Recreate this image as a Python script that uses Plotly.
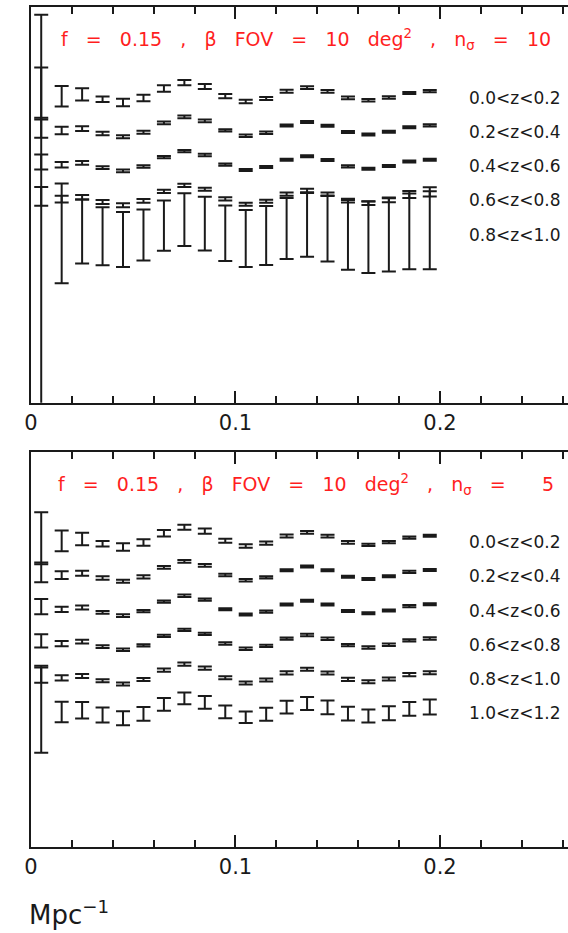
import plotly.graph_objects as go
from plotly.subplots import make_subplots

# Wavenumber bin centres (Mpc^-1)
k = [0.005, 0.015, 0.025, 0.035, 0.045, 0.055, 0.065, 0.075, 0.085, 0.095,
     0.105, 0.115, 0.125, 0.135, 0.145, 0.155, 0.165, 0.175, 0.185, 0.195]

# Fiducial P(k)/P_smooth ratio (baryon wiggles), common to every redshift slice
bao_ratio = [1.006, 0.990, 1.001, 0.973, 0.954, 0.980, 1.035, 1.070, 1.047, 0.991,
             0.960, 0.977, 1.019, 1.040, 1.018, 0.981, 0.967, 0.983, 1.009, 1.020]

# Redshift slices
z_bins = ["0.0<z<0.2", "0.2<z<0.4", "0.4<z<0.6", "0.6<z<0.8", "0.8<z<1.0", "1.0<z<1.2"]

# Vertical offset between consecutive slices
offset_step = 0.2

# 1-sigma errors on the ratio
err_z00_02 = [0.152, 0.060, 0.036, 0.016, 0.022, 0.019, 0.019, 0.015, 0.015, 0.012,
              0.010, 0.009, 0.009, 0.008, 0.008, 0.008, 0.007, 0.007, 0.006, 0.006]
err_z02_04 = [0.058, 0.022, 0.014, 0.010, 0.009, 0.009, 0.008, 0.008, 0.008, 0.007,
              0.007, 0.007, 0.006, 0.006, 0.006, 0.006, 0.006, 0.006, 0.006, 0.006]
err_z04_06 = [0.044, 0.016, 0.011, 0.008, 0.008, 0.007, 0.007, 0.007, 0.007, 0.006,
              0.006, 0.006, 0.006, 0.006, 0.006, 0.006, 0.006, 0.006, 0.006, 0.006]

# n_sigma = 10
err_z06_08_n10 = [0.055, 0.020, 0.013, 0.012, 0.012, 0.011, 0.010, 0.009, 0.009, 0.009,
                  0.009, 0.009, 0.009, 0.010, 0.010, 0.011, 0.011, 0.012, 0.013, 0.015]
err_z08_10_n10 = [1.260, 0.291, 0.187, 0.169, 0.161, 0.149, 0.146, 0.154, 0.157, 0.162,
                  0.166, 0.172, 0.178, 0.186, 0.193, 0.204, 0.209, 0.216, 0.228, 0.239]

# n_sigma = 5
err_z06_08_n5 = [0.038, 0.015, 0.011, 0.008, 0.007, 0.007, 0.007, 0.007, 0.007, 0.007,
                 0.007, 0.007, 0.007, 0.007, 0.007, 0.007, 0.007, 0.007, 0.007, 0.007]
err_z08_10_n5 = [0.044, 0.015, 0.012, 0.009, 0.009, 0.009, 0.009, 0.009, 0.009, 0.009,
                 0.009, 0.009, 0.009, 0.009, 0.009, 0.009, 0.009, 0.009, 0.009, 0.009]
err_z10_12_n5 = [0.254, 0.060, 0.048, 0.044, 0.041, 0.040, 0.037, 0.034, 0.037, 0.037,
                 0.034, 0.038, 0.037, 0.038, 0.040, 0.040, 0.038, 0.041, 0.040, 0.044]

panel_titles = [
    "f = 0.15 , β FOV = 10 deg<sup>2</sup> , n<sub>σ</sub> = 10",
    "f = 0.15 , β FOV = 10 deg<sup>2</sup> , n<sub>σ</sub> =  5",
]
panel_errors = [
    [err_z00_02, err_z02_04, err_z04_06, err_z06_08_n10, err_z08_10_n10],
    [err_z00_02, err_z02_04, err_z04_06, err_z06_08_n5, err_z08_10_n5, err_z10_12_n5],
]

INK = "#1a1a1a"
RED = "#ff1e1e"
FONT = "DejaVu Sans"
WIDE_GAP = "\u00a0\u00a0\u00a0"

fig = make_subplots(rows=2, cols=1, vertical_spacing=0.0588)

for p, errs in enumerate(panel_errors):
    row = p + 1
    sfx = "" if row == 1 else str(row)
    for j, e in enumerate(errs):
        shift = offset_step * j
        fig.add_trace(
            go.Scatter(
                x=k,
                y=[r - shift for r in bao_ratio],
                mode="markers",
                marker=dict(size=1, opacity=0),
                error_y=dict(type="data", array=e, visible=True,
                             color=INK, thickness=2, width=7),
                showlegend=False,
                hoverinfo="skip",
            ),
            row=row, col=1,
        )
        fig.add_annotation(
            x=0.2132, y=1.0 - shift, xref=f"x{sfx}", yref=f"y{sfx}",
            text=z_bins[j], showarrow=False, xanchor="left", yanchor="middle",
            yshift=-3, font=dict(family=FONT, size=17, color=INK),
        )
    title = panel_titles[p].replace(" ", WIDE_GAP)
    fig.add_annotation(
        x=0.512, y=0.917, xref=f"x{sfx} domain", yref=f"y{sfx} domain",
        text=title, showarrow=False, xanchor="center", yanchor="middle",
        font=dict(family=FONT, size=19, color=RED),
    )

xaxis_style = dict(
    range=[0, 0.2626], showline=True, linewidth=2, linecolor=INK,
    mirror="allticks", ticks="inside", ticklen=12, tickwidth=2, tickcolor=INK,
    dtick=0.1, tick0=0, showgrid=False, zeroline=False,
    minor=dict(ticks="inside", ticklen=7, tickwidth=2, tickcolor=INK, dtick=0.02, showgrid=False),
    tickfont=dict(family=FONT, size=21, color=INK),
)
yaxis_style = dict(
    range=[-0.798, 1.511], showline=True, linewidth=2, linecolor=INK,
    mirror=False, ticks="", showticklabels=False, showgrid=False, zeroline=False,
)
fig.update_xaxes(**xaxis_style)
fig.update_yaxes(**yaxis_style)
fig.update_layout(
    xaxis=dict(domain=[0, 1]), xaxis2=dict(domain=[0, 1]),
    yaxis=dict(domain=[0.529, 1.0]), yaxis2=dict(domain=[0.0, 0.4706]),
)

fig.add_annotation(
    x=0, y=-0.079, xref="paper", yref="paper", xshift=-4,
    text="Mpc<sup>−1</sup>", showarrow=False, xanchor="left", yanchor="middle",
    font=dict(family=FONT, size=26, color=INK),
)

fig.update_layout(
    width=568, height=933,
    margin=dict(l=31, r=0, t=7, b=86),
    paper_bgcolor="white", plot_bgcolor="white",
    showlegend=False,
)

fig.write_html("out.html")
